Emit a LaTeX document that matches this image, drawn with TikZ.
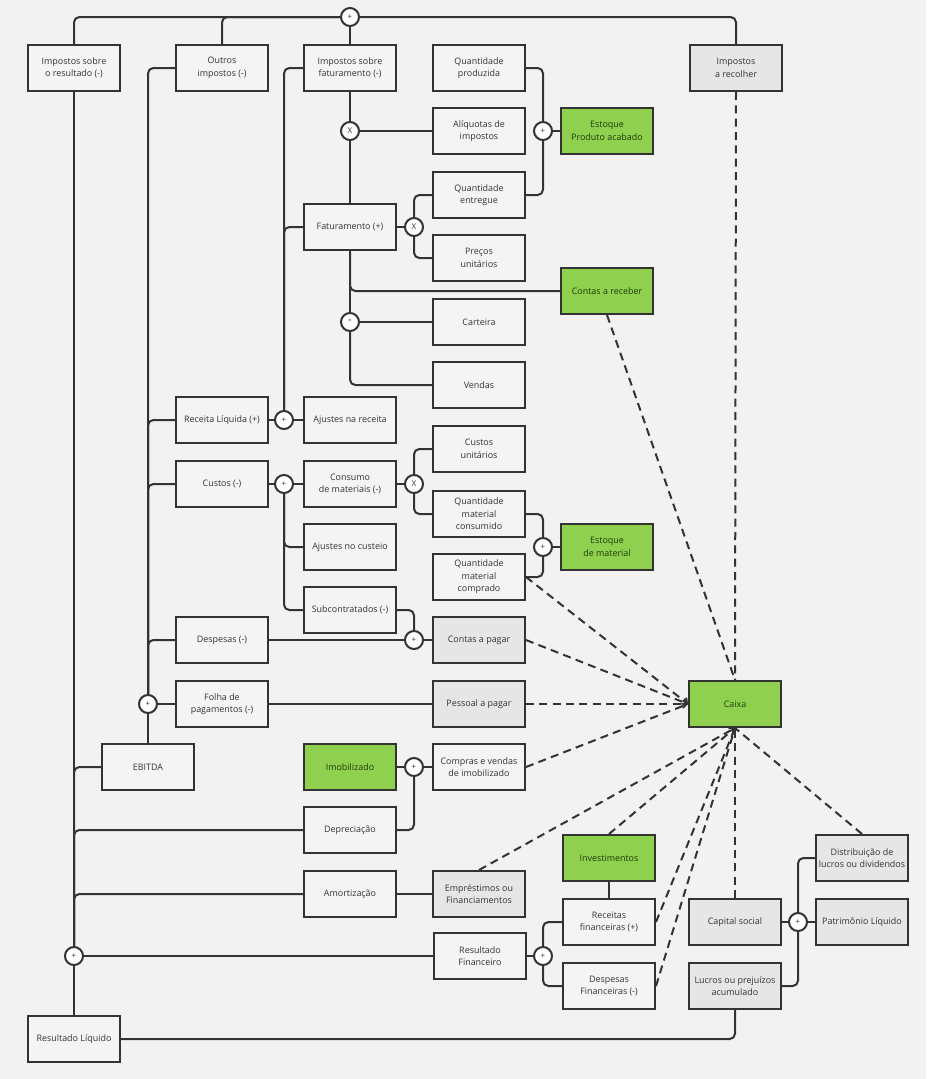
\documentclass[tikz,border=0pt]{standalone}
\usepackage{fontspec}
\setmainfont{Open Sans}
\usetikzlibrary{arrows.meta}
\definecolor{bg}{HTML}{F2F2F2}
\definecolor{boxfill}{HTML}{F4F4F4}
\definecolor{gry}{HTML}{E6E6E6}
\definecolor{grn}{HTML}{8FD14F}
\definecolor{grntxt}{HTML}{1E3A0A}
\definecolor{ln}{HTML}{333333}
\definecolor{txt}{HTML}{333333}
\begin{document}
\begin{tikzpicture}[x=0.75pt,y=-0.75pt,
  every node/.style={font=\fontsize{6.7}{9.3}\selectfont, text=txt},
  box/.style={draw=ln, line width=1.5pt, fill=boxfill, minimum width=69pt, minimum height=34.5pt, align=center, inner sep=1pt},
  gbox/.style={box, fill=grn, text=grntxt},
  dbox/.style={box, fill=gry},
  op/.style={circle, draw=ln, line width=1.5pt, fill=white, minimum size=13.5pt, inner sep=0pt, font=\fontsize{6}{6}\selectfont},
  con/.style={draw=ln, line width=1.5pt, rounded corners=4pt},
  dsh/.style={draw=ln, line width=1.5pt, dash pattern=on 6pt off 4pt},
  dsha/.style={dsh, -{Straight Barb[length=3pt,width=6pt,line width=1.2pt]}}
]
\useasboundingbox (0,0) rectangle (926,1079);
\fill[bg] (0,0) rectangle (926,1079);

% ---------- boxes ----------
\node[box]  (ir)   at (74,68)    {Impostos sobre\\o resultado (-)};
\node[box]  (oi)   at (222,68)   {Outros\\impostos (-)};
\node[box]  (if)   at (350,68)   {Impostos sobre\\faturamento (-)};
\node[box]  (qp)   at (479,68)   {Quantidade\\produzida};
\node[dbox] (irec) at (736,68)   {Impostos\\a recolher};
\node[box]  (al)   at (479,131)  {Alíquotas de\\impostos};
\node[gbox] (epa)  at (607,131)  {Estoque\\Produto acabado};
\node[box]  (fat)  at (350,227)  {Faturamento (+)};
\node[box]  (qe)   at (479,195)  {Quantidade\\entregue};
\node[box]  (pu)   at (479,258)  {Preços\\unitários};
\node[gbox] (cr)   at (607,291)  {Contas a receber};
\node[box]  (cart) at (479,322)  {Carteira};
\node[box]  (vend) at (479,385)  {Vendas};
\node[box]  (rl)   at (222,420)  {Receita Líquida (+)};
\node[box]  (ar)   at (350,420)  {Ajustes na receita};
\node[box]  (cu)   at (479,449)  {Custos\\unitários};
\node[box]  (cus)  at (222,484)  {Custos (-)};
\node[box]  (cm)   at (350,484)  {Consumo\\de materiais (-)};
\node[box]  (qmc)  at (479,514)  {Quantidade\\material\\consumido};
\node[box]  (ac)   at (350,547)  {Ajustes no custeio};
\node[gbox] (em)   at (607,547)  {Estoque\\de material};
\node[box]  (qmp)  at (479,577)  {Quantidade\\material\\comprado};
\node[box]  (sub)  at (350,610)  {Subcontratados (-)};
\node[box]  (desp) at (222,640)  {Despesas (-)};
\node[dbox] (cp)   at (479,640)  {Contas a pagar};
\node[box]  (fp)   at (222,704)  {Folha de\\pagamentos (-)};
\node[dbox] (pp)   at (479,704)  {Pessoal a pagar};
\node[gbox] (caixa) at (735,704) {Caixa};
\node[box]  (ebitda) at (148,767) {EBITDA};
\node[gbox] (imob) at (350,767)  {Imobilizado};
\node[box]  (cv)   at (479,767)  {Compras e vendas\\de imobilizado};
\node[box]  (dep)  at (350,830)  {Depreciação};
\node[gbox] (inv)  at (609,858)  {Investimentos};
\node[dbox] (dist) at (862,858)  {Distribuição de\\lucros ou dividendos};
\node[box]  (amort) at (350,894) {Amortização};
\node[dbox] (emp)  at (479,894)  {Empréstimos ou\\Financiamentos};
\node[box]  (recf) at (609,922)  {Receitas\\financeiras (+)};
\node[dbox] (cs)   at (735,922)  {Capital social};
\node[dbox] (pl)   at (862,922)  {Patrimônio Líquido};
\node[box]  (resf) at (480,956)  {Resultado\\Financeiro};
\node[box]  (despf) at (609,986) {Despesas\\Financeiras (-)};
\node[dbox] (lp)   at (735,986)  {Lucros ou prejuízos\\acumulado};
\node[box]  (rliq) at (74,1039)  {Resultado Líquido};

% ---------- operators ----------
\node[op] (c1)  at (350,17)  {+};
\node[op] (c2)  at (350,131) {X};
\node[op] (c3)  at (543,131) {+};
\node[op] (c4)  at (414,227) {X};
\node[op, font=\fontsize{8.5}{8.5}\selectfont] (c5)  at (350,322) {-};
\node[op] (c6)  at (284,420) {+};
\node[op] (c7)  at (284,484) {+};
\node[op] (c8)  at (414,484) {X};
\node[op] (c9)  at (543,547) {+};
\node[op] (c10) at (414,640) {+};
\node[op] (c11) at (148,704) {+};
\node[op] (c12) at (414,767) {+};
\node[op] (c13) at (74,956)  {+};
\node[op] (c14) at (543,956) {+};
\node[op] (c15) at (798,922) {+};

% ---------- solid connectors ----------
\draw[con] (ir.north) |- (c1.west);
\draw[con] (oi.north) |- (c1.west);
\draw[con] (if.north) -- (c1.south);
\draw[con] (irec.north) |- (c1.east);
\draw[con] (if.south) -- (c2.north);
\draw[con] (c2.south) -- (fat.north);
\draw[con] (c2.east) -- (al.west);
\draw[con] (qp.east) -| (c3.north);
\draw[con] (qe.east) -| (c3.south);
\draw[con] (c3.east) -- (epa.west);
\draw[con] (fat.east) -- (c4.west);
\draw[con] (c4.north) |- (qe.west);
\draw[con] (c4.south) |- (pu.west);
\draw[con] (fat.south) -- (c5.north);
\draw[con] (fat.south) |- (cr.west);
\draw[con] (c5.east) -- (cart.west);
\draw[con] (c5.south) |- (vend.west);
\draw[con] (if.west) -| (c6.north);
\draw[con] (fat.west) -| (c6.north);
\draw[con] (rl.east) -- (c6.west);
\draw[con] (c6.east) -- (ar.west);
\draw[con] (oi.west) -| (c11.north);
\draw[con] (rl.west) -| (c11.north);
\draw[con] (cus.west) -| (c11.north);
\draw[con] (desp.west) -| (c11.north);
\draw[con] (c11.east) -- (fp.west);
\draw[con] (c11.south) -- (ebitda.north);
\draw[con] (fp.east) -- (pp.west);
\draw[con] (cus.east) -- (c7.west);
\draw[con] (c7.east) -- (cm.west);
\draw[con] (c7.south) |- (ac.west);
\draw[con] (c7.south) |- (sub.west);
\draw[con] (cm.east) -- (c8.west);
\draw[con] (c8.north) |- (cu.west);
\draw[con] (c8.south) |- (qmc.west);
\draw[con] (qmc.east) -| (c9.north);
\draw[con] (qmp.east) -| (c9.south);
\draw[con] (c9.east) -- (em.west);
\draw[con] (sub.east) -| (c10.north);
\draw[con] (desp.east) -- (c10.west);
\draw[con] (c10.east) -- (cp.west);
\draw[con] (imob.east) -- (c12.west);
\draw[con] (c12.east) -- (cv.west);
\draw[con] (dep.east) -| (c12.south);
\draw[con] (ir.south) -- (c13.north);
\draw[con] (c13.south) -- (rliq.north);
\draw[con] (ebitda.west) -| (c13.north);
\draw[con] (dep.west) -| (c13.north);
\draw[con] (amort.west) -| (c13.north);
\draw[con] (c13.east) -- (resf.west);
\draw[con] (amort.east) -- (emp.west);
\draw[con] (resf.east) -- (c14.west);
\draw[con] (c14.north) |- (recf.west);
\draw[con] (c14.south) |- (despf.west);
\draw[con] (inv.south) -- (recf.north);
\draw[con] (cs.east) -- (c15.west);
\draw[con] (c15.east) -- (pl.west);
\draw[con] (c15.north) |- (dist.west);
\draw[con] (lp.east) -| (c15.south);
\draw[con] (rliq.east) -| (lp.south);

% ---------- dashed cash flows ----------
\draw[dsh]  (irec.south) -- (caixa.north);
\draw[dsh]  (cr.south) -- (caixa.north);
\draw[dsha] (qmp.east) -- (caixa.west);
\draw[dsha] (cp.east) -- (caixa.west);
\draw[dsha] (pp.east) -- (caixa.west);
\draw[dsh]  (cv.east) -- (caixa.west);
\draw[dsha] (emp.north) -- (caixa.south);
\draw[dsha] (inv.north) -- (caixa.south);
\draw[dsh]  (recf.east) -- (caixa.south);
\draw[dsh]  (despf.east) -- (caixa.south);
\draw[dsh]  (cs.north) -- (caixa.south);
\draw[dsh]  (dist.north) -- (caixa.south);
\end{tikzpicture}
\end{document}
